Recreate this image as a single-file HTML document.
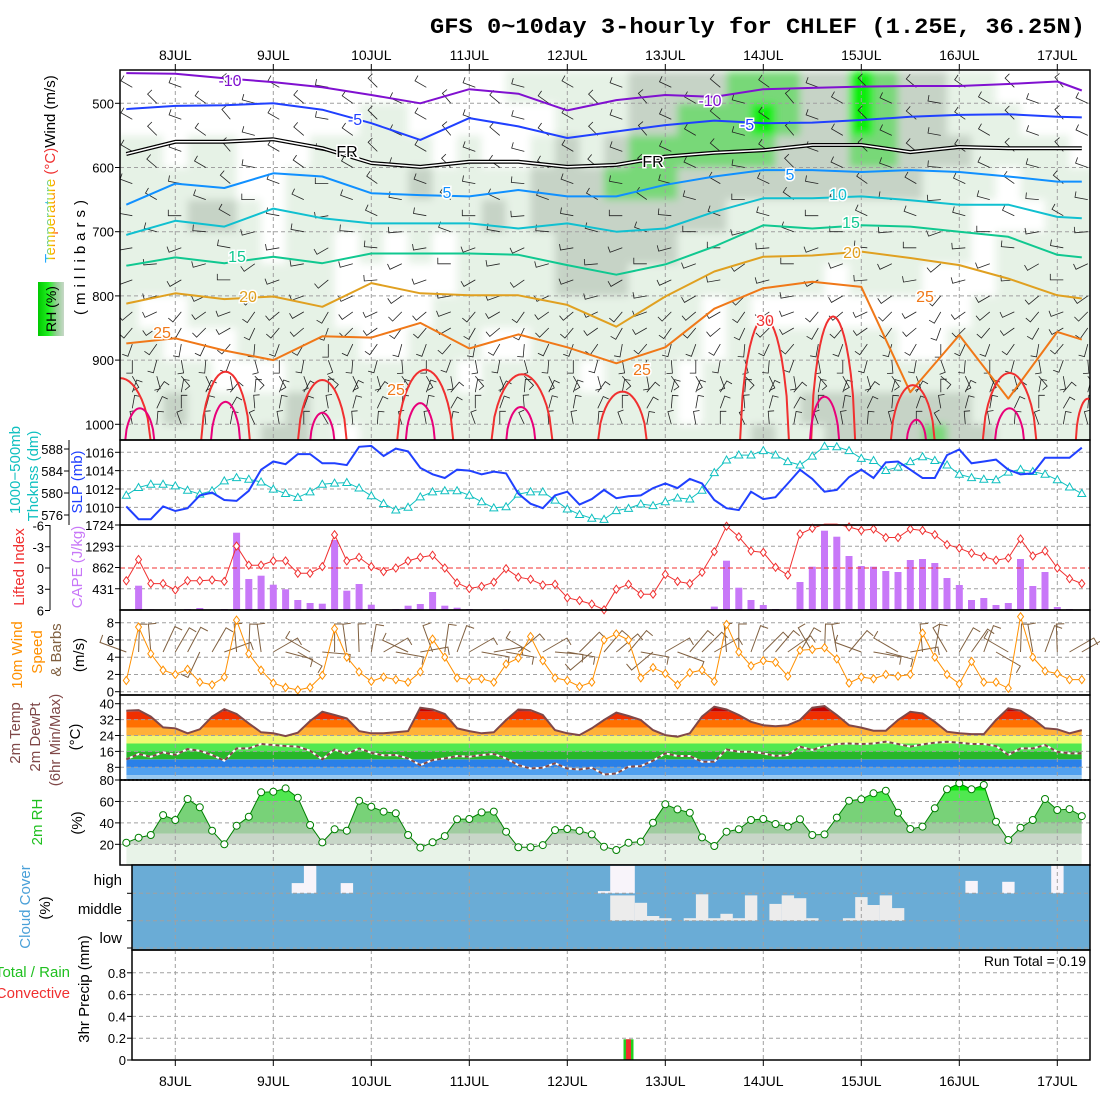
<!DOCTYPE html>
<html><head><meta charset="utf-8"><title>GFS meteogram CHLEF</title>
<style>
html,body{margin:0;padding:0;background:#fff;}
svg{display:block;font-family:"Liberation Sans",sans-serif;}
.tk{font-size:13px;fill:#000;}
.lab{font-size:14px;}
</style></head>
<body>
<svg id="chart" width="1100" height="1100" viewBox="0 0 1100 1100" xmlns="http://www.w3.org/2000/svg">
<defs>
<filter id="blur" x="-5%" y="-5%" width="110%" height="110%"><feGaussianBlur stdDeviation="4"/></filter>
<clipPath id="clipP1"><rect x="120" y="70" width="970" height="370"/></clipPath>
<linearGradient id="rhgrad" x1="0" y1="0" x2="1" y2="0"><stop offset="0" stop-color="#00c800"/><stop offset="0.4" stop-color="#20f020"/><stop offset="0.7" stop-color="#90d090"/><stop offset="1" stop-color="#c8d8c8"/></linearGradient>
<linearGradient id="tgrad" x1="0" y1="1" x2="0" y2="0"><stop offset="0" stop-color="#ff3030"/><stop offset="0.3" stop-color="#ff9900"/><stop offset="0.55" stop-color="#e0e000"/><stop offset="0.75" stop-color="#20c0ff"/><stop offset="1" stop-color="#4040ff"/></linearGradient>
</defs>
<text x="1085" y="33" text-anchor="end" font-family="Liberation Mono, monospace" font-size="22" font-weight="bold" textLength="655" lengthAdjust="spacingAndGlyphs">GFS 0~10day 3-hourly for CHLEF (1.25E, 36.25N)</text>
<g id="root"></g>
</svg>
<script>
// ---------- data ----------
const dayLabels = ['8JUL','9JUL','10JUL','11JUL','12JUL','13JUL','14JUL','15JUL','16JUL','17JUL'];
const slp = [1010.1,1008.7,1008.7,1010.1,1009.6,1009.9,1011.3,1011.6,1010.8,1010.7,1011.8,1014.1,1015.0,1014.7,1015.8,1015.8,1014.8,1014.8,1014.6,1016.6,1016.7,1015.6,1016.4,1016.1,1014.3,1013.6,1013.2,1014.1,1014.0,1013.6,1013.9,1013.7,1011.5,1010.4,1009.9,1011.3,1011.7,1010.3,1010.9,1011.9,1011.0,1011.2,1011.3,1012.1,1012.6,1012.1,1013.1,1012.6,1010.8,1009.9,1009.7,1011.7,1010.9,1011.1,1012.6,1014.1,1013.1,1011.7,1011.9,1013.3,1014.1,1013.2,1014.9,1015.0,1014.1,1013.2,1013.2,1015.7,1016.3,1014.8,1015.0,1015.2,1014.1,1013.6,1013.7,1015.4,1015.4,1015.4,1016.5];
const thick = [579.6,581.0,581.6,581.6,581.3,580.5,579.8,580.4,582.2,582.8,582.5,582.0,580.7,579.9,579.2,580.2,581.6,581.8,581.9,580.9,579.5,578.1,576.9,577.4,579.3,580.2,580.4,580.4,579.6,578.4,577.3,577.5,579.8,580.2,580.2,578.7,577.1,576.1,575.4,575.2,576.8,577.2,578.0,577.7,578.4,579.1,578.9,580.5,583.7,586.0,586.9,586.9,587.7,586.9,585.7,585.1,586.7,588.5,588.4,587.7,586.3,585.9,584.1,584.7,585.7,586.6,585.9,585.1,583.4,582.8,582.5,582.4,583.8,584.3,583.9,583.4,582.4,581.1,579.9];
const liftedIndex = [1.8,-1.2,2.2,2.2,3.1,1.8,1.8,1.7,1.9,-3.1,-0.4,-0.4,-1.0,-1.0,0.75,0.75,-0.2,-4.7,-1.0,-1.5,-0.2,0.5,0,-1.0,-1.5,-1.8,0,2.1,2.9,2.6,2.0,0.1,1.3,1.6,2.4,2.3,4.2,4.6,5.1,5.9,3.0,2.3,3.7,3.7,0.9,1.9,2.2,0.6,-2.3,-5.9,-4.4,-2.4,-2.2,-0.1,1.0,-4.8,-5.6,-6.2,-6.2,-5.8,-5.3,-5.5,-4.3,-4.3,-5.5,-5.3,-4.7,-3.3,-2.8,-2.1,-1.6,-1.1,-1.4,-4.1,-1.7,-2.4,0,1.5,2.2];
const cape = [0,493,15,0,0,20,40,0,20,1568,629,696,514,419,203,142,128,1420,392,527,108,0,20,88,122,365,88,47,20,0,0,20,0,0,0,0,0,0,0,0,0,0,0,0,0,0,0,0,68,1000,453,203,101,20,0,568,879,1609,1487,1095,893,879,791,771,1014,1034,953,649,507,203,243,101,142,1034,487,771,61,20,0];
const windSpeed = [1.3,7.5,4.4,2.5,2.0,2.6,1.1,0.8,1.7,8.3,4.4,2.5,1.0,0.5,0.2,0.5,1.9,7.3,4.0,2.3,1.2,1.7,1.4,1.1,2.3,6.1,4.0,1.6,1.4,1.5,1.1,3.2,3.9,6.4,3.6,1.6,1.3,0.6,1.1,6.0,6.7,6.0,1.6,2.8,2.1,0.8,2.2,2.5,1.2,7.8,4.6,3.0,3.6,3.4,1.8,4.8,4.9,5.1,3.8,1.0,1.7,1.5,2.0,1.8,2.0,6.8,4.0,2.0,0.9,3.5,1.1,1.1,0.4,8.7,4.0,2.4,2.1,1.4,1.4];
const windDir = [290,2,355,25,30,28,205,30,70,355,2,352,60,105,120,300,95,0,352,358,10,60,100,295,80,340,8,20,60,100,80,100,50,300,60,95,100,45,230,40,50,40,100,230,60,110,40,45,60,355,0,20,45,40,55,30,330,2,350,40,290,100,105,300,80,355,10,330,30,35,20,120,300,2,350,20,358,60,60];
const temp2m = [36.5,36.8,33.5,28.1,27.6,25.1,27.1,33.5,37.3,34.8,30.1,25.6,25.1,23.7,25.4,31.3,36.0,34.3,32.6,26.2,25.1,25.1,25.6,26.2,38.0,37.1,34.8,27.6,26.2,25.1,25.6,31.8,37.1,36.8,34.3,26.7,25.1,24.2,27.6,31.8,35.5,33.8,31.8,26.7,24.2,23.4,25.1,33.5,38.5,37.1,34.3,30.9,29.2,28.7,29.2,31.8,38.0,38.8,34.3,29.2,28.0,26.4,26.4,31.8,35.9,35.1,30.9,25.9,25.1,24.7,24.7,31.8,37.7,36.5,32.6,27.6,27.1,25.1,26.7];
const dew2m = [12.0,14.7,13.3,15.5,14.2,17.2,16.3,14.2,11.3,17.5,17.5,19.7,19.2,18.7,18.4,16.3,12.0,17.0,14.7,17.5,15.3,14.0,14.2,12.5,9.1,11.6,12.5,13.7,13.3,14.2,14.7,12.5,9.1,7.4,7.8,10.0,7.4,6.9,7.8,4.4,4.9,8.3,8.6,11.3,15.0,13.7,13.7,10.8,10.8,17.0,15.8,15.8,15.0,13.7,14.2,18.4,16.7,18.7,19.7,20.0,19.7,20.0,20.9,19.7,18.4,19.5,20.4,20.9,20.4,19.7,19.7,18.7,14.2,17.5,17.5,19.2,15.8,15.0,15.0];
const rh2m = [21.5,26.2,28.7,47.3,42.7,62.3,54.5,32.7,20.0,37.4,45.8,68.5,69.1,72.2,63.5,38.0,21.8,34.0,32.7,60.7,55.1,50.5,48.9,28.7,16.9,21.9,27.7,43.3,43.6,49.8,50.5,31.8,17.2,17.2,19.3,33.3,34.3,32.7,29.3,17.8,14.7,21.5,22.5,40.2,57.3,52.6,49.5,26.5,18.4,31.8,34.0,42.7,43.6,39.0,36.5,43.3,28.7,29.3,44.9,60.7,62.0,67.6,70.0,49.5,34.3,36.5,53.6,71.3,76.9,71.3,75.3,41.1,24.0,35.5,42.7,62.3,52.0,52.9,46.3];
const cloudHigh = [0,0,0,0,0,0,0,0,0,0, 0,0,0,0,37,100,0,0,37,0, 0,0,0,0,0,0,0,0,0,0, 0,0,0,0,0,0,0,0,0,8, 100,100,0,0,0,0,0,0,0,0, 0,0,0,0,0,0,0,0,0,0, 0,0,0,0,0,0,0,0,0,45, 0,0,42,0,0,0,100,0,0];
const cloudMid = [0,0,0,0,0,0,0,0,0,0, 0,0,0,0,0,0,0,0,0,0, 0,0,0,0,0,0,0,0,0,0, 0,0,0,0,0,0,0,0,0,0, 92,92,65,17,9,0,9,96,9,25, 9,92,0,61,92,82,9,0,0,9, 86,57,92,46,0,0,0,0,0,0, 0,0,0,0,0,0,0,0,0];
const precipIdx = [41];
const precipTotal = [0.19];
const precipConv = [0.19];
const contourIdx = [0,4,8,12,16,20,24,28,32,36,40,44,48,52,56,60,64,68,72,76,78];
const isoM10 = [453,454,461,467,475,487,500,478,485,511,495,487,490,478,476,474,473,473,470,466,480];
const isoM5 = [509,504,503,500,510,531,557,523,536,554,544,534,527,531,530,526,521,518,517,521,522];
const isoFR = [579,560,560,556,570,593,599,591,591,599,596,583,577,573,565,565,576,568,570,570,570];
const iso5 = [658,625,632,609,614,640,643,645,635,645,645,627,614,604,604,607,604,607,614,622,622];
const iso10 = [705,683,692,664,679,687,687,687,695,687,700,695,669,648,648,645,651,658,658,677,679];
const iso15 = [753,740,749,739,749,734,734,734,736,752,767,751,723,690,695,690,692,700,708,736,740];
const iso20 = [812,796,805,801,817,780,796,799,799,814,848,801,762,739,737,731,741,752,773,799,804];
const iso25 = [874,866,885,900,863,865,842,882,860,880,905,880,820,788,778,786,950,861,960,856,868];
const red30Center = [-0.5,8.1,16,24.4,32.3,40.5,52.1,57.7,64.2,72.1,78.5];
const red30Top = [928,918,931,915,922,949,834,832,939,920,960];
const red30Half = [2.5,2,2,2.3,2.5,2,2,1.8,1.8,2.2,1];
const mag35Center = [1.1,8.1,16,24,32.2,57,64.5,72.1];
const mag35Top = [975,965,982,967,973,957,993,975];
const mag35Half = [1.2,1.2,1,1.2,1.2,1.2,0.8,1.2];
const rhGrid = [
[0,0,1,1,1,1,1,1,1,1,1,1],[0,0,1,1,1,1,1,0,1,1,1,1],[0,0,0,1,1,1,1,0,0,1,2,1],[0,0,1,1,2,1,1,1,0,1,1,1],
[0,0,1,1,2,1,1,1,0,0,1,1],[0,0,0,0,1,1,1,1,1,0,1,1],[0,0,0,0,0,0,1,1,1,0,1,2],[0,0,0,1,1,1,1,1,1,1,2,2],
[0,0,1,1,1,1,1,1,1,1,1,1],[0,0,1,1,1,0,0,0,1,1,1,0],[0,1,1,1,1,1,0,0,0,1,1,1],[0,1,1,1,1,0,0,0,0,1,1,1],
[0,0,1,2,1,1,0,0,1,1,1,1],[0,0,0,1,1,0,0,1,1,1,1,1],[0,0,1,1,1,1,1,1,1,0,1,1],[0,0,0,1,2,1,1,1,0,1,1,1],
[1,0,0,1,1,1,1,1,0,1,1,1],[1,0,1,2,2,1,1,1,1,1,1,1],[1,1,2,2,2,2,2,1,1,1,1,1],[1,1,1,2,2,2,2,1,1,0,1,1],
[1,1,2,3,2,2,2,1,1,1,1,1],[2,2,3,3,2,2,1,1,1,1,1,1],[2,2,3,3,2,2,1,1,1,1,1,1],[2,3,3,2,2,1,1,1,1,0,0,1],
[2,3,3,2,2,1,1,0,0,1,1,1],[3,3,3,2,1,1,1,1,1,1,1,1],[3,4,3,2,1,1,1,0,1,1,1,2],[3,3,2,2,1,1,1,0,1,1,1,1],
[2,2,2,2,1,1,1,0,1,1,2,1],[2,2,2,2,1,1,0,0,1,1,2,2],[4,4,3,2,1,1,1,0,1,1,2,2],[3,3,3,2,1,1,1,0,1,1,2,2],
[2,2,2,2,1,1,1,0,0,1,2,2],[2,2,2,1,1,1,0,0,0,1,2,3],[1,1,2,1,1,1,0,0,1,1,2,2],[1,1,1,1,0,0,0,1,1,1,1,2],
[0,1,1,0,0,1,1,1,1,1,1,1],[0,0,1,1,0,1,1,1,1,1,1,1],[0,0,1,1,1,1,1,1,1,1,1,1],[0,0,0,1,1,1,1,1,1,1,1,1]];
const barbLevels = [475,500,525,550,575,600,625,650,675,700,725,750,775,800,825,850,875,900,925,950,975,1000];
const barbLevelDir = [300,300,300,300,300,295,290,285,280,270,260,250,250,240,230,220,200,180,150,20,10,350];
const barbColShift = [0,15,-10,5,20,-15,0,10,-20,5,15,-5,0,20,-10,10,-15,5,0,15,-10,20,-5,0,10,-15,5,20,-10,0,15,-5,10,-20,5,0,15,-10,20,-5];

// ---------- helpers ----------
const NS='http://www.w3.org/2000/svg';
const root=document.getElementById('root');
function add(parent, tag, attrs, name){
  const el=document.createElementNS(NS,tag);
  for(const k in attrs) el.setAttribute(k, attrs[k]);
  
  
  parent.appendChild(el);
  return el;
}
function txt(parent, x, y, s, attrs, name){
  const t=add(parent,'text',Object.assign({x:x,y:y},attrs||{}),name);
  t.textContent=s; return t;
}
function rtxt(parent, x, y, s, attrs, name){
  const t=add(parent,'text',Object.assign({x:0,y:0,transform:`translate(${x},${y}) rotate(-90)`,'text-anchor':'middle'},attrs||{}),name);
  t.textContent=s; return t;
}
const X0=126.3, DX=12.25;
const xi=i=>X0+DX*i;
const dayX=d=>175.3+98*d;
const pts=(arr,fy)=>arr.map((v,i)=>xi(i).toFixed(1)+','+fy(v).toFixed(1)).join(' ');
const GRID={stroke:'#a0a0a0','stroke-width':1,'stroke-dasharray':'4,3',fill:'none'};

const yP=p=>103.3+(p-500)*0.642;
const ySLP=v=>452.3+(1016-v)*9.17;
const yTh=v=>449+(588-v)*5.5;
const yLI=v=>568+v*7.083;
const yCAPE=v=>610-v*(85/1724);
const yW=v=>691.7-v*8.625;
const yT=v=>703.7+(40-v)*1.9875;
const yRH=v=>780+(80-v)*1.072;
const yPr=v=>1060-v*109;

function vgrid(g,y0,y1,x0){
  for(let d=0;d<dayLabels.length;d++){const x=dayX(d); if(x>x0) add(g,'line',Object.assign({x1:x,x2:x,y1:y0,y2:y1},GRID),'day-gridline');}
}
function hgrid(g,ys,x0,x1){ys.forEach(y=>add(g,'line',Object.assign({x1:x0,x2:x1,y1:y,y2:y},GRID),'value-gridline'));}
function frame(g,x,y,w,h,name){add(g,'rect',{x:x,y:y,width:w,height:h,fill:'none',stroke:'#000','stroke-width':1.5},name);}
function ticksLeft(g,vals,fy,x,labels,name){
  vals.forEach((v,k)=>{const y=fy(v);
    add(g,'line',{x1:x-5,x2:x,y1:y,y2:y,stroke:'#000'},'tick-mark');
    txt(g,x-6,y+5,labels[k],{'text-anchor':'end',class:'tk'},name);});
}

// ---------- date labels ----------
const gDates=add(root,'g',{},'date-axis');
dayLabels.forEach((s,d)=>{
  txt(gDates,dayX(d),60,s,{'text-anchor':'middle','font-size':14},'top-date-label');
  txt(gDates,dayX(d),1086,s,{'text-anchor':'middle','font-size':14},'bottom-date-label');
  add(gDates,'line',{x1:dayX(d),x2:dayX(d),y1:64,y2:70,stroke:'#000'},'top-date-tick');
  add(gDates,'line',{x1:dayX(d),x2:dayX(d),y1:1060,y2:1066,stroke:'#000'},'bottom-date-tick');
});

// ---------- panel 1 : upper air ----------
const g1=add(root,'g',{'clip-path':'url(#clipP1)'},'upper-air-panel');
const rhColors=['#ffffff','#e6f2e6','#c6d3c6','#78d878','#10ee10'];
const gRH=add(g1,'g',{filter:'url(#blur)'},'upper-rh-shading');
rhGrid.forEach((col,c)=>{col.forEach((cat,r)=>{
  const p0=450+r*50, x=xi(c*2)-12.25;
  add(gRH,'rect',{x:x.toFixed(1),y:yP(p0).toFixed(1),width:25.5,height:33,fill:rhColors[cat]},'rh-cell');
});});
vgrid(g1,70,440,120);
hgrid(g1,[500,600,700,800,900,1000].map(yP),120,1090);
const gB=add(g1,'g',{stroke:'#222','stroke-width':0.8,fill:'none'},'upper-wind-barbs');
for(let c=0;c<40;c++){barbLevels.forEach((p,k)=>{
  if((c+k)%2===1 && k<14) return;
  const x=xi(c*2)+6, y=yP(p), a=(barbLevelDir[k]+barbColShift[c])*Math.PI/180;
  const ex=x+13*Math.sin(a), ey=y-13*Math.cos(a);
  const b=a+Math.PI*0.5, fx=ex+6*Math.sin(b), fy=ey-6*Math.cos(b);
  add(gB,'polyline',{points:`${x.toFixed(1)},${y.toFixed(1)} ${ex.toFixed(1)},${ey.toFixed(1)} ${fx.toFixed(1)},${fy.toFixed(1)}`},'upper-wind-barb');
});}
function iso(arr,color,w,name){
  const p=arr.map((v,k)=>xi(contourIdx[k]).toFixed(1)+','+yP(v).toFixed(1)).join(' ');
  return add(g1,'polyline',{points:p,fill:'none',stroke:color,'stroke-width':w,'stroke-linejoin':'round'},name);
}
iso(isoM10,'#8010d0',2,'isotherm-minus10');
iso(isoM5,'#2040ff',2,'isotherm-minus5');
iso(isoFR,'#000',4,'freezing-level-outer');
iso(isoFR,'#fff',1.5,'freezing-level-inner');
iso(iso5,'#1090ff',2,'isotherm-5');
iso(iso10,'#10c0d0',2,'isotherm-10');
iso(iso15,'#10c890',2,'isotherm-15');
iso(iso20,'#e0a020',2,'isotherm-20');
iso(iso25,'#f07818',2,'isotherm-25');
function loops(cs,tops,halves,color,name){
  cs.forEach((c,k)=>{const ps=[];
    for(let t=-1;t<=1.0001;t+=0.1){const x=xi(c+t*halves[k]);const y=442-(442-yP(tops[k]))*Math.pow(Math.max(0,1-t*t),0.6);ps.push(x.toFixed(1)+','+y.toFixed(1));}
    add(g1,'polyline',{points:ps.join(' '),fill:'none',stroke:color,'stroke-width':2},name);});
}
loops(red30Center,red30Top,red30Half,'#f03030','isotherm-30-loop');
loops(mag35Center,mag35Top,mag35Half,'#e8007a','isotherm-35-loop');
const CL={'font-size':16,'paint-order':'stroke',stroke:'#fff','stroke-width':3,'text-anchor':'middle'};
[['-10',230,86,'#8010d0'],['-10',710,106,'#8010d0'],['-5',355,125,'#2040ff'],['-5',747,130,'#2040ff'],
 ['FR',347,157,'#000'],['FR',653,167,'#000'],['5',447,198,'#1090ff'],['5',790,180,'#1090ff'],
 ['10',838,200,'#10c0d0'],['15',237,262,'#10c890'],['15',851,228,'#10c890'],['20',248,302,'#e0a020'],
 ['20',852,258,'#e0a020'],['25',162,338,'#f07818'],['25',642,375,'#f07818'],['25',396,395,'#f07818'],
 ['25',925,302,'#f07818'],['30',765,326,'#f03030']].forEach(l=>txt(g1,l[1],l[2],l[0],Object.assign({fill:l[3]},CL),'isotherm-label'));
const g1f=add(root,'g',{},'upper-air-axes');
frame(g1f,120,70,970,370,'upper-air-frame');
ticksLeft(g1f,[500,600,700,800,900,1000],yP,120,['500','600','700','800','900','1000'],'pressure-tick-label');
rtxt(g1f,85,255,'(millibars)',{'font-size':15,'letter-spacing':'5'},'pressure-axis-title');
const tt=add(g1f,'text',{x:0,y:0,transform:'translate(55,263) rotate(-90)','font-size':15},'upper-axis-title');
tt.innerHTML='<tspan fill="url(#tgrad)">Temperature</tspan><tspan fill="#f03030"> (°C)</tspan><tspan fill="#000">Wind (m/s)</tspan>';
add(g1f,'rect',{x:38,y:282,width:26,height:54,fill:'url(#rhgrad)'},'rh-legend-box');
rtxt(g1f,56,309,'RH (%)',{'font-size':14},'rh-legend-label');

// ---------- panel 2 ----------
const g2=add(root,'g',{},'slp-panel');
vgrid(g2,440,525,120);
hgrid(g2,[1016,1014,1012,1010].map(ySLP),120,1090);
add(g2,'polyline',{points:pts(thick,yTh),fill:'none',stroke:'#10c0c0','stroke-width':1},'thickness-line');
thick.forEach((v,i)=>{const x=xi(i),y=yTh(v);add(g2,'polygon',{points:`${x},${y-4} ${x-4},${y+3} ${x+4},${y+3}`,fill:'#fff',stroke:'#10c0c0'},'thickness-marker');});
add(g2,'polyline',{points:pts(slp,ySLP),fill:'none',stroke:'#2040ff','stroke-width':2},'slp-line');
frame(g2,120,440,970,85,'slp-frame');
ticksLeft(g2,[1016,1014,1012,1010],ySLP,120,['1016','1014','1012','1010'],'slp-tick-label');
add(g2,'line',{x1:69,x2:69,y1:440,y2:525,stroke:'#000'},'thickness-axis');
ticksLeft(g2,[588,584,580,576],yTh,69,['588','584','580','576'],'thickness-tick-label');
rtxt(g2,82,482,'SLP (mb)',{'font-size':15,fill:'#2040ff'},'slp-axis-title');
rtxt(g2,20,470,'1000−500mb',{'font-size':15,fill:'#10c0c0'},'thickness-axis-title-1');
rtxt(g2,38,476,'Thcknss (dm)',{'font-size':15,fill:'#10c0c0'},'thickness-axis-title-2');

// ---------- panel 3 ----------
const g3=add(root,'g',{},'cape-panel');
vgrid(g3,525,610,120);
hgrid(g3,[1293,431].map(yCAPE),120,1090);
cape.forEach((v,i)=>{if(v>0)add(g3,'rect',{x:(xi(i)-3.5).toFixed(1),y:yCAPE(v).toFixed(1),width:7,height:(610-yCAPE(v)).toFixed(1),fill:'#c878f8'},'cape-bar');});
add(g3,'line',{x1:120,x2:1090,y1:yLI(0),y2:yLI(0),stroke:'#f03030','stroke-dasharray':'5,3'},'li-zero-line');
add(g3,'polyline',{points:pts(liftedIndex.map(v=>Math.max(-6.2,v)),yLI),fill:'none',stroke:'#f03030','stroke-width':1},'lifted-index-line');
liftedIndex.forEach((v,i)=>{if(v<-6)return;const x=xi(i),y=yLI(v);add(g3,'polygon',{points:`${x},${y-4} ${x+3},${y} ${x},${y+4} ${x-3},${y}`,fill:'#fff',stroke:'#f03030'},'li-marker');});
frame(g3,120,525,970,85,'cape-frame');
ticksLeft(g3,[1724,1293,862,431],yCAPE,120,['1724','1293','862','431'],'cape-tick-label');
add(g3,'line',{x1:50,x2:50,y1:525,y2:610,stroke:'#000'},'li-axis');
ticksLeft(g3,[-6,-3,0,3,6],yLI,50,['-6','-3','0','3','6'],'li-tick-label');
rtxt(g3,24,567,'Lifted Index',{'font-size':15,fill:'#f03030'},'li-axis-title');
rtxt(g3,82,567,'CAPE (J/kg)',{'font-size':15,fill:'#c878f8'},'cape-axis-title');

// ---------- panel 4 ----------
const g4=add(root,'g',{},'wind-panel');
vgrid(g4,610,695,120);
hgrid(g4,[8,6,4,2,0].map(yW),120,1090);
windDir.forEach((d,i)=>{const a=d*Math.PI/180,x=xi(i),y=652;const ex=x+28*Math.sin(a),ey=y-28*Math.cos(a);const b=a+Math.PI/2;
  add(g4,'polyline',{points:`${x.toFixed(1)},${y} ${ex.toFixed(1)},${ey.toFixed(1)} ${(ex+8*Math.sin(b)).toFixed(1)},${(ey-8*Math.cos(b)).toFixed(1)}`,fill:'none',stroke:'#806040','stroke-width':1},'wind-barb-10m');});
add(g4,'polyline',{points:pts(windSpeed,yW),fill:'none',stroke:'#ff9000','stroke-width':1},'wind-speed-line');
windSpeed.forEach((v,i)=>{const x=xi(i),y=yW(v);add(g4,'polygon',{points:`${x},${y-4} ${x+3},${y} ${x},${y+4} ${x-3},${y}`,fill:'#fff',stroke:'#ff9000'},'wind-speed-marker');});
frame(g4,120,610,970,85,'wind-frame');
ticksLeft(g4,[8,6,4,2,0],yW,120,['8','6','4','2','0'],'wind-tick-label');
rtxt(g4,22,655,'10m Wind',{'font-size':15,fill:'#ff9000'},'wind-axis-title-1');
rtxt(g4,42,652,'Speed',{'font-size':15,fill:'#ff9000'},'wind-axis-title-2');
rtxt(g4,61,650,'& Barbs',{'font-size':15,fill:'#806040'},'wind-axis-title-3');
rtxt(g4,84,655,'(m/s)',{'font-size':15},'wind-axis-title-4');

// ---------- panel 5 ----------
const g5=add(root,'g',{},'temp-panel');
const tArea=`${xi(0)},780 `+pts(temp2m,yT)+` ${xi(78)},780`;
add(add(root.ownerSVGElement.querySelector('defs'),'clipPath',{id:'clipT'},'temp-clip'),'polygon',{points:tArea},'temp-clip-shape');
const tBands=[[0,4,'#98c8f0'],[4,8,'#50a0f0'],[8,12,'#2a80e8'],[12,16,'#28b828'],[16,20,'#50e850'],[20,24,'#f0f870'],[24,28,'#ffb038'],[28,32,'#ff7000'],[32,36,'#f03000'],[36,50,'#c00000']];
const gTB=add(g5,'g',{'clip-path':'url(#clipT)'},'temp-bands');
tBands.forEach(b=>{const y0=Math.min(780,yT(b[0])),y1=yT(b[1]);add(gTB,'rect',{x:xi(0),y:y1.toFixed(1),width:xi(78)-xi(0),height:(y0-y1).toFixed(1),fill:b[2]},'temp-band');});
vgrid(g5,695,780,120);
hgrid(g5,[40,32,24,16,8].map(yT),120,1090);
add(g5,'polyline',{points:pts(temp2m,yT),fill:'none',stroke:'#804848','stroke-width':2},'temp-line');
add(g5,'polyline',{points:pts(dew2m,yT),fill:'none',stroke:'#fff','stroke-width':2},'dewpoint-line-bg');
add(g5,'polyline',{points:pts(dew2m,yT),fill:'none',stroke:'#804848','stroke-width':2,'stroke-dasharray':'4,3'},'dewpoint-line');
frame(g5,120,695,970,85,'temp-frame');
add(g5,'line',{x1:120,x2:1090,y1:780,y2:780,stroke:'#000','stroke-width':1.5,'stroke-dasharray':'2,2'},'temp-bottom-line');
ticksLeft(g5,[40,32,24,16,8],yT,120,['40','32','24','16','8'],'temp-tick-label');
rtxt(g5,20,733,'2m Temp',{'font-size':15,fill:'#804848'},'temp-axis-title-1');
rtxt(g5,40,737,'2m DewPt',{'font-size':15,fill:'#804848'},'temp-axis-title-2');
rtxt(g5,60,740,'(6hr Min/Max)',{'font-size':15,fill:'#804848'},'temp-axis-title-3');
rtxt(g5,80,737,'(°C)',{'font-size':15},'temp-axis-title-4');

// ---------- panel 6 ----------
const g6=add(root,'g',{},'rh-panel');
const rArea=`${xi(0)},865 `+pts(rh2m,yRH)+` ${xi(78)},865`;
add(add(root.ownerSVGElement.querySelector('defs'),'clipPath',{id:'clipR'},'rh-clip'),'polygon',{points:rArea},'rh-clip-shape');
const rBands=[[0,20,'#e8f3e8'],[20,30,'#c8d6c8'],[30,40,'#a0cca0'],[40,60,'#78d278'],[60,70,'#50e850'],[70,100,'#00e600']];
const gRB=add(g6,'g',{'clip-path':'url(#clipR)'},'rh-bands');
rBands.forEach(b=>{const y0=Math.min(865,yRH(b[0])),y1=Math.max(780,yRH(b[1]));add(gRB,'rect',{x:xi(0),y:y1.toFixed(1),width:xi(78)-xi(0),height:(y0-y1).toFixed(1),fill:b[2]},'rh-band');});
vgrid(g6,780,865,120);
hgrid(g6,[60,40,20].map(yRH),120,1090);
add(g6,'polyline',{points:pts(rh2m,yRH),fill:'none',stroke:'#008000','stroke-width':1},'rh-line');
rh2m.forEach((v,i)=>add(g6,'circle',{cx:xi(i).toFixed(1),cy:yRH(v).toFixed(1),r:3.5,fill:'#fff',stroke:'#008000'},'rh-marker'));
frame(g6,120,780,970,85,'rh-frame');
ticksLeft(g6,[80,60,40,20],yRH,120,['80','60','40','20'],'rh-tick-label');
rtxt(g6,42,822,'2m RH',{'font-size':15,fill:'#20c020'},'rh-axis-title');
rtxt(g6,82,823,'(%)',{'font-size':15},'rh-axis-unit');

// ---------- panel 7 ----------
const g7=add(root,'g',{},'cloud-panel');
add(g7,'rect',{x:132,y:865,width:958,height:85,fill:'#6aacd6'},'cloud-background');
const layerBottom=[893.3,920.7], layerH=27.5;
[cloudHigh,cloudMid].forEach((arr,L)=>arr.forEach((v,i)=>{if(v<=0)return;const h=layerH*v/100;
  add(g7,'rect',{x:(xi(i)-6.125).toFixed(1),y:(layerBottom[L]-h).toFixed(1),width:12.4,height:h.toFixed(1),fill:L===0?'#f8f4fa':'#ececec'},L===0?'high-cloud-bar':'middle-cloud-bar');}));
vgrid(g7,865,950,132);
hgrid(g7,[893.3,920.7,948],132,1090);
frame(g7,132,865,958,85,'cloud-frame');
[['high',885],['middle',914],['low',943]].forEach(l=>txt(g7,122,l[1],l[0],{'text-anchor':'end','font-size':15},'cloud-layer-label'));
[893.3,920.7,948].forEach(y=>add(g7,'line',{x1:127,x2:132,y1:y,y2:y,stroke:'#000'},'cloud-tick'));
rtxt(g7,30,907,'Cloud Cover',{'font-size':15,fill:'#4aa0d8'},'cloud-axis-title');
rtxt(g7,50,908,'(%)',{'font-size':15},'cloud-axis-unit');

// ---------- panel 8 ----------
const g8=add(root,'g',{},'precip-panel');
vgrid(g8,950,1060,132);
hgrid(g8,[0.8,0.6,0.4,0.2].map(yPr),132,1090);
precipIdx.forEach((i,k)=>{
  add(g8,'rect',{x:(xi(i)-5).toFixed(1),y:yPr(precipTotal[k]).toFixed(1),width:10,height:(1060-yPr(precipTotal[k])).toFixed(1),fill:'#20d020'},'rain-bar');
  add(g8,'rect',{x:(xi(i)-2.5).toFixed(1),y:yPr(precipConv[k]).toFixed(1),width:5,height:(1060-yPr(precipConv[k])).toFixed(1),fill:'#f03030'},'convective-bar');
});
frame(g8,132,950,958,110,'precip-frame');
ticksLeft(g8,[0.8,0.6,0.4,0.2,0],yPr,132,['0.8','0.6','0.4','0.2','0'],'precip-tick-label');
txt(g8,1086,966,'Run Total = 0.19',{'text-anchor':'end','font-size':14},'run-total-label');
txt(g8,70,977,'Total / Rain',{'text-anchor':'end','font-size':15,fill:'#20c020'},'precip-legend-rain');
txt(g8,70,998,'Convective',{'text-anchor':'end','font-size':15,fill:'#f03030'},'precip-legend-convective');
rtxt(g8,89,989,'3hr Precip (mm)',{'font-size':15},'precip-axis-title');
</script>
</body></html>
